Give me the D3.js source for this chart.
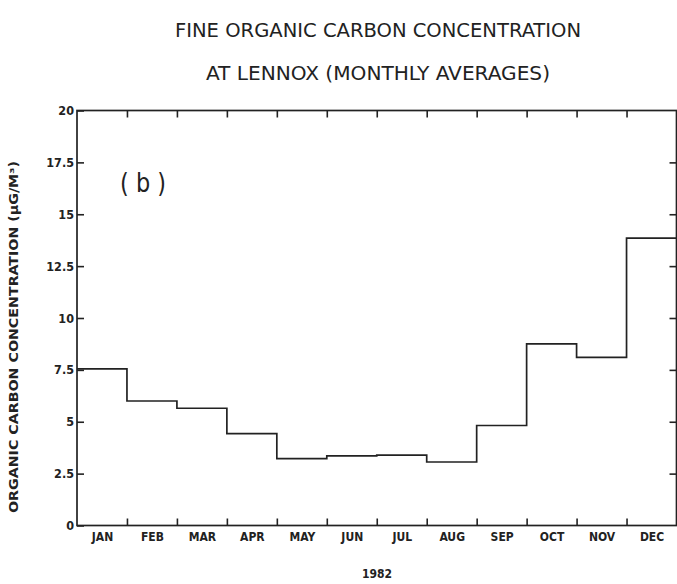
<!DOCTYPE html>
<html>
<head>
<meta charset="utf-8">
<script src="https://cdn.jsdelivr.net/npm/d3@7"></script>
<style>
  html, body { margin: 0; padding: 0; background: #fff; }
  svg { display: block; }
</style>
</head>
<body>
<script>
// ---- data ----
const months = ["JAN","FEB","MAR","APR","MAY","JUN","JUL","AUG","SEP","OCT","NOV","DEC"];
const values = [7.55, 6.0, 5.65, 4.43, 3.22, 3.36, 3.39, 3.06, 4.82, 8.75, 8.1, 13.85];
const yTicks = [0, 2.5, 5, 7.5, 10, 12.5, 15, 17.5, 20];
const yTickLabels = ["0", "2.5", "5", "7.5", "10", "12.5", "15", "17.5", "20"];
const titleLines = ["FINE ORGANIC CARBON CONCENTRATION", "AT LENNOX (MONTHLY AVERAGES)"];
const yLabel = "ORGANIC CARBON CONCENTRATION  (\u00B5G/M\u00B3)";
const xLabel = "1982";
const panelLabel = "( b )";

(function () {
const W = 677, H = 584;
const ink = "#222";
const pL = 77, pR = 676.5, pT = 110.5, pB = 525.5;

const svg = d3.select("body").append("svg").attr("width", W).attr("height", H);

const x = d3.scaleLinear().domain([0, 12]).range([pL, pR]);
const y = d3.scaleLinear().domain([0, 20]).range([pB, pT]);

const plotFont = "'DejaVu Sans Condensed', 'DejaVu Sans', sans-serif";

// titles
svg.append("text").attr("x", 378).attr("y", 37)
  .attr("text-anchor", "middle").attr("font-family", plotFont)
  .attr("font-size", 20).attr("fill", ink)
  .attr("textLength", 406).attr("lengthAdjust", "spacingAndGlyphs")
  .text(titleLines[0]);
svg.append("text").attr("x", 378).attr("y", 80)
  .attr("text-anchor", "middle").attr("font-family", plotFont)
  .attr("font-size", 20).attr("fill", ink)
  .attr("textLength", 344).attr("lengthAdjust", "spacingAndGlyphs")
  .text(titleLines[1]);

// frame
svg.append("rect").attr("x", pL).attr("y", pT)
  .attr("width", pR - pL).attr("height", pB - pT)
  .attr("fill", "none").attr("stroke", ink).attr("stroke-width", 1.7);

const tickIdx = d3.range(1, 12);

const gB = svg.append("g").attr("transform", `translate(0,${pB})`)
  .call(d3.axisBottom(x).tickValues(tickIdx).tickSize(-7).tickFormat(""));
const gT = svg.append("g").attr("transform", `translate(0,${pT})`)
  .call(d3.axisTop(x).tickValues(tickIdx).tickSize(-7).tickFormat(""));
const gM = svg.append("g").attr("transform", `translate(0,${pB})`)
  .call(d3.axisBottom(x).tickValues(d3.range(12).map(i => i + 0.5)).tickSize(0).tickPadding(5)
    .tickFormat((d, i) => months[i]));
const gL = svg.append("g").attr("transform", `translate(${pL},0)`)
  .call(d3.axisLeft(y).tickValues(yTicks).tickSize(-7).tickPadding(4)
    .tickFormat((d, i) => yTickLabels[i]));
const gR = svg.append("g").attr("transform", `translate(${pR},0)`)
  .call(d3.axisRight(y).tickValues(yTicks.slice(1, -1)).tickSize(-7).tickFormat(""));

[gB, gT, gM, gL, gR].forEach(g => {
  g.select(".domain").remove();
  g.selectAll(".tick line").attr("stroke", ink).attr("stroke-width", 1.6);
});
gM.selectAll("text").attr("font-family", plotFont).attr("font-weight", "bold")
  .attr("font-size", 12).attr("fill", ink).attr("dy", "0.9em");
gL.selectAll("text").attr("font-family", plotFont)
  .attr("font-weight", "bold").attr("font-size", 12.5).attr("fill", ink)
  .attr("x", -3);

// step line
const pts = values.map((v, i) => [i, v]).concat([[12, values[values.length - 1]]]);
const line = d3.line().x(d => x(d[0])).y(d => y(d[1])).curve(d3.curveStepAfter);
svg.append("path").datum(pts).attr("d", line)
  .attr("fill", "none").attr("stroke", ink).attr("stroke-width", 1.7);

// panel label
svg.append("text").attr("x", 143).attr("y", 192)
  .attr("text-anchor", "middle").attr("font-family", "'DejaVu Sans', sans-serif")
  .attr("font-size", 26).attr("fill", ink)
  .attr("textLength", 46).attr("lengthAdjust", "spacingAndGlyphs")
  .text(panelLabel);

// x label
svg.append("text").attr("x", 377).attr("y", 578)
  .attr("text-anchor", "middle").attr("font-family", plotFont).attr("font-weight", "bold")
  .attr("font-size", 12).attr("fill", ink).text(xLabel);

// y label
svg.append("text").attr("transform", "translate(18,337) rotate(-90)")
  .attr("text-anchor", "middle").attr("font-family", plotFont).attr("font-weight", "bold")
  .attr("font-size", 11.5).attr("fill", ink)
  .attr("textLength", 352).attr("lengthAdjust", "spacingAndGlyphs")
  .text(yLabel);
})();
</script>
</body>
</html>
